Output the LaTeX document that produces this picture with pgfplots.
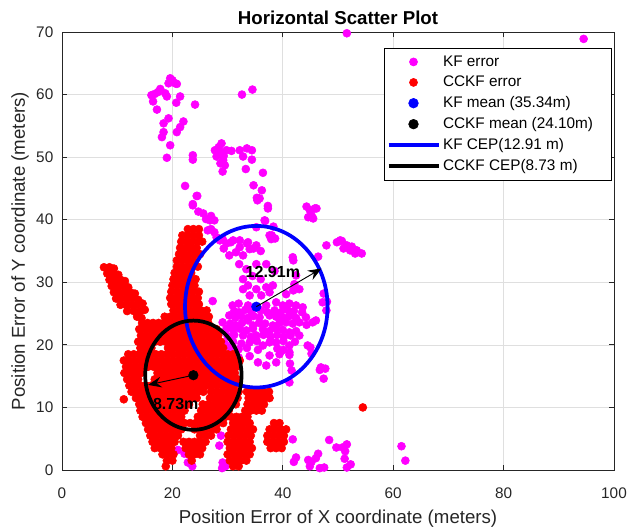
\documentclass[border=0pt]{standalone}
\usepackage{fontspec}
\setmainfont{Liberation Sans}
\usepackage{pgfplots}
\pgfplotsset{compat=1.18}
\usetikzlibrary{arrows.meta}
\definecolor{gridgray}{RGB}{223,223,223}
\definecolor{axgray}{RGB}{38,38,38}
\definecolor{mymag}{RGB}{255,0,255}
\definecolor{myred}{RGB}{255,0,0}
\definecolor{myblue}{RGB}{0,0,255}
\pgfplotsset{
  marklegend/.style={legend image code/.code={\path[draw=none,fill=none] (0pt,-3pt) rectangle (37.5pt,3pt); \draw[mark repeat=2,mark phase=2,##1] plot coordinates {(0pt,0pt) (18.75pt,0pt) (37.5pt,0pt)};}},
  linelegend/.style={legend image code/.code={\draw[##1] (0pt,0pt) -- (37.5pt,0pt);}},
}
\begin{document}
\begin{tikzpicture}
\path[use as bounding box] (-46.5pt,-42pt) rectangle (426pt,352.5pt);
\begin{axis}[
  at={(0pt,0pt)}, anchor=south west,
  scale only axis, width=414pt, height=328.5pt,
  xmin=0, xmax=100, ymin=0, ymax=70,
  xtick={0,20,...,100}, ytick={0,10,...,70},
  clip=false, clip marker paths=true,
  grid=major, major grid style={draw=gridgray, line width=0.5pt},
  axis line style={draw=axgray, line width=0.6pt},
  tick align=inside, major tick length=4pt,
  tick style={draw=axgray, line width=0.6pt},
  every tick label/.append style={font=\fontsize{11.5}{13}\selectfont, text=axgray},
  /pgf/number format/assume math mode=true,
  xticklabel style={yshift=-9.5pt},
  yticklabel style={xshift=-3pt},
  xlabel={Position Error of X coordinate (meters)},
  ylabel={Position Error of Y coordinate (meters)},
  xlabel style={at={(axis description cs:0.5,-0.112)}, anchor=center, font=\fontsize{14}{16}\selectfont, text=axgray},
  ylabel style={at={(axis description cs:-0.076,0.5)}, anchor=center, font=\fontsize{14}{16}\selectfont, text=axgray},
  title={Horizontal Scatter Plot},
  title style={at={(axis description cs:0.5,1.015)}, anchor=center, font=\bfseries\fontsize{14}{16}\selectfont},
  legend style={at={(rel axis cs:0.9964,0.9635)}, anchor=north east, draw=black, line width=0.5pt, fill=white, font=\fontsize{11.5}{13}\selectfont, inner xsep=2pt, inner ysep=3.5pt, row sep=1.9pt},
  legend cell align=left,
]
% KF error
\addplot[only marks, mark=*, mark size=3pt, color=mymag, marklegend] coordinates {
(19.6,62.6)(20.5,61.8)(19.3,61.8)(20.8,61.7)(16.2,59.9)(17.4,60.4)(18.7,60.2)(19.0,59.7)(16.5,58.9)(17.2,57.6)
(21.4,59.7)(20.7,58.7)(24.1,58.4)(19.3,56.2)(18.4,55.4)(22.0,55.7)(21.4,54.8)(20.8,54.0)(18.4,54.0)(18.1,53.2)
(19.6,51.9)(19.0,49.9)(23.7,50.3)(23.7,49.6)(22.3,45.4)(24.5,43.8)(32.6,60.0)(34.5,60.8)(17.8,60.9)(20.0,62.3)(16.8,60.1)
(28.9,52.2)(27.7,51.1)(28.6,50.9)(29.8,51.1)(30.7,51.0)(28.0,50.1)(29.2,49.5)(29.5,48.7)(29.1,47.7)(32.2,51.1)
(33.5,51.4)(34.4,51.1)(32.8,50.1)(34.4,49.6)(33.3,48.1)(36.4,47.5)(34.7,45.5)(36.2,44.7)(35.3,43.5)(28.4,51.6)(29.3,50.2)(28.7,49.0)
(24.4,43.8)(23.7,42.3)(24.7,41.3)(25.6,41.0)(26.8,39.9)(27.0,38.5)(35.4,43.1)(37.3,41.8)(36.8,39.8)(38.3,38.9)
(38.0,37.5)(38.6,37.0)(35.8,43.4)(37.3,42.2)(23.7,42.5)(26.1,40.1)(27.0,40.6)(27.6,39.9)
(26.4,38.3)(27.6,38.0)(28.6,36.7)(29.8,36.2)(31.0,36.7)(32.2,36.7)(33.5,36.2)(34.7,35.4)(29.1,36.9)(30.6,36.4)
(33.7,36.4)(35.2,35.9)(34.0,35.3)(32.8,34.3)(31.5,34.8)(30.3,34.3)(29.3,35.4)(32.2,35.6)(36.0,35.0)(37.6,37.5)
(37.9,36.9)(36.7,39.9)(35.2,38.8)(28.0,37.2)
(44.3,42.1)(44.9,41.5)(45.8,41.8)(45.2,40.7)(46.1,41.8)(44.6,40.4)(45.5,40.2)
(47.9,35.9)(49.8,36.4)(50.7,36.6)(51.6,35.9)(52.5,35.7)(53.4,35.1)(54.3,34.6)(51.0,35.4)(52.2,35.1)(53.1,34.6)(50.4,36.7)
(46.4,34.1)(41.9,33.5)(41.8,34.0)(42.4,31.1)(41.9,28.7)(47.4,28.2)(48.0,26.9)(47.2,26.8)(47.9,25.5)(40.6,28.1)(42.1,29.7)(43.0,28.9)
(32.1,32.9)(33.4,32.1)(35.2,32.9)(37.0,32.9)(32.8,30.5)(33.7,29.5)(35.2,28.9)(37.0,29.2)(38.2,29.5)(32.8,28.9)
(34.0,27.9)(36.1,27.9)(37.6,28.4)(34.5,31.0)(36.0,30.5)(38.5,31.8)
(27.3,27.0)(30.9,26.3)(32.0,26.6)(33.7,26.3)(37.0,26.3)(38.8,26.8)(40.0,26.3)(41.2,26.6)(42.4,26.3)(43.6,26.0)
(31.2,25.4)(32.1,25.2)(33.2,25.6)(34.3,25.3)(36.0,25.5)(37.2,25.2)(38.5,25.5)(39.6,25.2)(40.8,25.6)(42.0,25.4)(43.5,25.2)
(30.3,24.7)(31.4,24.3)(32.5,24.6)(33.6,24.3)(34.7,24.6)(35.8,24.4)(37.6,24.7)(38.8,24.5)(40.0,24.4)(41.2,24.6)(42.4,24.3)(44.2,24.4)(46.0,23.9)
(29.1,23.6)(30.5,23.4)(31.5,23.1)(32.6,23.5)(33.7,23.9)(34.6,23.1)(35.7,23.5)(36.8,23.4)(38.2,23.1)(39.4,23.5)(40.6,23.6)(41.8,23.4)(43.0,23.6)(44.3,23.2)(45.4,23.6)
(28.5,22.0)(29.8,22.6)(31.0,22.4)(32.2,22.6)(33.4,22.3)(34.6,22.6)(36.4,22.5)(37.6,22.2)(38.8,22.6)(40.0,22.4)(41.2,22.0)(42.4,22.2)
(30.0,21.4)(31.2,21.6)(32.8,21.5)(34.2,21.3)(35.2,21.5)(36.5,21.6)(37.8,21.3)(39.0,21.6)(40.2,21.3)(41.4,21.5)(43.0,21.5)
(29.5,20.2)(31.0,20.5)(32.5,20.2)(34.0,20.4)(35.3,20.6)(36.4,19.9)(37.6,20.4)(38.8,20.4)(40.1,20.6)(41.2,19.9)(42.2,20.5)(44.5,19.9)
(30.5,19.6)(32.0,19.3)(33.5,19.5)(35.5,19.2)(37.6,18.3)(39.0,19.4)(40.1,19.2)(41.2,18.8)(45.0,19.6)
(32.0,18.0)(34.0,18.2)(39.4,18.5)(41.2,18.4)(45.2,18.6)(38.8,17.2)(35.5,17.2)(37.0,16.7)(41.3,17.0)(41.6,15.9)
(41.2,14.0)(46.7,16.0)(47.7,16.2)(47.4,14.6)(46.9,16.4)
(31.5,7.6)(32.1,6.5)(28.8,5.5)(28.5,3.9)(29.1,1.2)(29.0,0.3)(29.6,0.6)(21.0,3.2)(22.2,2.6)(22.8,1.2)(23.6,0.6)
(41.8,4.9)(42.0,1.3)(42.4,2.0)(44.6,1.6)(46.0,1.9)(44.9,0.6)(46.7,0.3)(47.5,0.4)(46.4,2.6)(45.2,1.3)(48.4,4.8)
(50.8,3.6)(51.3,3.0)(51.2,1.8)(51.6,0.4)(52.3,0.9)(51.6,4.1)(61.5,3.8)(62.2,1.5)(49.7,3.6)
(51.6,69.8)(94.5,68.9)
};
\addlegendentry{KF error}
% CCKF error
\addplot[only marks, mark=*, mark size=3pt, color=myred, marklegend] coordinates {
(7.6,32.4)(8.6,32.4)(9.4,32.2)(8.2,31.4)(9.2,31.4)(10.2,31.2)(8.6,30.4)(9.6,30.4)(10.6,30.4)(11.4,30.2)
(9.0,29.4)(10.0,29.4)(11.0,29.4)(12.0,29.2)(9.4,28.4)(10.4,28.4)(11.4,28.4)(12.4,28.4)(13.2,28.2)
(9.8,27.4)(10.8,27.4)(11.8,27.4)(12.8,27.4)(13.8,27.2)(10.6,26.4)(11.6,26.4)(12.6,26.4)(13.6,26.4)(14.6,26.6)
(11.8,25.4)(13.0,25.4)(14.2,25.4)(15.0,25.6)(13.6,24.5)(14.4,24.3)
(22.8,38.5)(23.8,38.5)(24.8,38.5)
(21.8,37.5)(22.8,37.5)(23.8,37.5)(24.8,37.5)
(21.6,36.5)(22.6,36.5)(23.6,36.5)(24.6,36.5)(25.4,36.5)
(21.4,35.5)(22.4,35.5)(23.4,35.5)(24.4,35.5)
(21.2,34.5)(22.2,34.5)(23.2,34.5)(24.2,34.5)(25.0,34.5)
(20.8,33.5)(21.8,33.5)(22.8,33.5)(23.8,33.5)
(20.8,32.5)(21.8,32.5)(22.8,32.5)(23.8,32.5)(24.6,32.5)
(20.4,31.5)(21.4,31.5)(22.4,31.5)(23.4,31.5)
(20.2,30.5)(21.2,30.5)(22.2,30.5)(23.2,30.5)(24.2,30.5)
(20.0,29.5)(21.0,29.5)(22.0,29.5)(23.0,29.5)(24.0,29.5)
(19.8,28.5)(20.8,28.5)(21.8,28.5)(22.8,28.5)(23.8,28.5)(24.8,28.5)
(19.6,27.5)(20.6,27.5)(21.6,27.5)(22.6,27.5)(23.6,27.5)(24.6,27.5)
(19.8,26.5)(20.8,26.5)(21.8,26.5)(22.8,26.5)(23.8,26.5)(24.8,26.5)
(20.2,25.5)(21.2,25.5)(22.2,25.5)(23.2,25.5)(24.2,25.5)(25.2,25.5)(26.2,25.5)
(18.6,24.5)(19.6,24.5)(20.6,24.5)(21.6,24.5)(22.6,24.5)(23.6,24.5)(24.6,24.5)(25.6,24.5)(26.6,24.5)
(14.5,23.5)(15.5,23.5)(16.5,23.5)(17.5,23.5)(18.5,23.5)(19.5,23.5)(20.5,23.5)(21.5,23.5)(22.5,23.5)(23.5,23.5)(24.5,23.5)(25.5,23.5)(26.5,23.5)
(14.0,22.5)(15.0,22.5)(16.0,22.5)(17.0,22.5)(18.0,22.5)(19.0,22.5)(20.0,22.5)(21.0,22.5)(22.0,22.5)(23.0,22.5)(24.0,22.5)(25.0,22.5)(26.0,22.5)(27.0,22.5)(28.0,22.5)
(14.3,21.5)(15.3,21.5)(16.3,21.5)(17.3,21.5)(18.3,21.5)(19.3,21.5)(20.3,21.5)(21.3,21.5)(22.3,21.5)(23.3,21.5)(24.3,21.5)(25.3,21.5)(26.3,21.5)(27.3,21.5)(28.3,21.5)
(13.8,20.5)(14.8,20.5)(15.8,20.5)(16.8,20.5)(17.8,20.5)(18.8,20.5)(19.8,20.5)(20.8,20.5)(21.8,20.5)(22.8,20.5)(23.8,20.5)(24.8,20.5)(25.8,20.5)(26.8,20.5)(27.8,20.5)(28.8,20.5)
(14.2,19.5)(15.2,19.5)(16.2,19.5)(19.2,19.5)(20.2,19.5)(21.2,19.5)(22.2,19.5)(23.2,19.5)(24.2,19.5)(25.2,19.5)(26.2,19.5)(27.2,19.5)(28.2,19.5)(29.2,19.5)
(12.0,18.5)(13.0,18.5)(14.0,18.5)(15.0,18.5)(16.0,18.5)(17.0,18.5)(18.0,18.5)(19.0,18.5)(20.0,18.5)(21.0,18.5)(22.0,18.5)(23.0,18.5)(24.0,18.5)(25.0,18.5)(26.0,18.5)(27.0,18.5)(28.0,18.5)(29.0,18.5)(30.0,18.5)(31.0,18.5)
(11.2,17.5)(12.2,17.5)(13.2,17.5)(14.2,17.5)(15.2,17.5)(16.2,17.5)(17.2,17.5)(18.2,17.5)(19.2,17.5)(20.2,17.5)(21.2,17.5)(22.2,17.5)(23.2,17.5)(24.2,17.5)(25.2,17.5)(26.2,17.5)(27.2,17.5)(28.2,17.5)(29.2,17.5)(30.2,17.5)(31.2,17.5)(32.2,17.5)
(11.6,16.5)(12.6,16.5)(13.6,16.5)(14.6,16.5)(15.6,16.5)(16.6,16.5)(17.6,16.5)(18.6,16.5)(19.6,16.5)(20.6,16.5)(21.6,16.5)(22.6,16.5)(23.6,16.5)(24.6,16.5)(25.6,16.5)(26.6,16.5)(27.6,16.5)(28.6,16.5)(29.6,16.5)(30.6,16.5)(31.6,16.5)
(11.3,15.5)(12.3,15.5)(13.3,15.5)(14.3,15.5)(17.3,15.5)(18.3,15.5)(19.3,15.5)(20.3,15.5)(21.3,15.5)(22.3,15.5)(23.3,15.5)(24.3,15.5)(25.3,15.5)(26.3,15.5)(27.3,15.5)(28.3,15.5)(29.3,15.5)(30.3,15.5)(31.3,15.5)
(11.8,14.5)(12.8,14.5)(13.8,14.5)(16.8,14.5)(17.8,14.5)(18.8,14.5)(19.8,14.5)(20.8,14.5)(21.8,14.5)(22.8,14.5)(23.8,14.5)(24.8,14.5)(25.8,14.5)(26.8,14.5)(27.8,14.5)(28.8,14.5)(29.8,14.5)(30.8,14.5)(31.8,14.5)
(12.2,13.5)(13.2,13.5)(14.2,13.5)(15.2,13.5)(16.2,13.5)(17.2,13.5)(18.2,13.5)(19.2,13.5)(20.2,13.5)(21.2,13.5)(22.2,13.5)(23.2,13.5)(24.2,13.5)(25.2,13.5)(26.2,13.5)(27.2,13.5)(28.2,13.5)(29.2,13.5)(30.2,13.5)(31.2,13.5)
(12.6,12.5)(13.6,12.5)(14.6,12.5)(15.6,12.5)(16.6,12.5)(17.6,12.5)(18.6,12.5)(19.6,12.5)(20.6,12.5)(21.6,12.5)(22.6,12.5)(23.6,12.5)(24.6,12.5)(25.6,12.5)(27.0,12.5)(28.0,12.5)(29.0,12.5)(30.0,12.5)(31.0,12.5)(32.0,12.5)(33.5,12.5)(34.5,12.5)(35.5,12.5)(36.5,12.5)(37.5,12.5)
(11.2,11.3)(13.4,11.5)(14.4,11.5)(15.4,11.5)(16.4,11.5)(17.4,11.5)(18.4,11.5)(19.4,11.5)(20.4,11.5)(21.4,11.5)(22.4,11.5)(23.4,11.5)(24.4,11.5)(26.8,11.5)(27.8,11.5)(28.8,11.5)(29.8,11.5)(30.8,11.5)(31.8,11.5)(33.8,11.5)(34.8,11.5)(35.8,11.5)(36.8,11.5)(37.6,11.5)
(14.0,10.5)(15.0,10.5)(16.0,10.5)(17.0,10.5)(18.0,10.5)(19.0,10.5)(20.0,10.5)(21.0,10.5)(22.0,10.5)(23.0,10.5)(25.5,10.5)(26.5,10.5)(27.5,10.5)(28.5,10.5)(29.5,10.5)(30.5,10.5)(31.5,10.5)(33.6,10.5)(34.6,10.5)(35.6,10.5)(36.6,10.5)
(14.2,9.5)(15.2,9.5)(16.2,9.5)(17.2,9.5)(18.2,9.5)(19.2,9.5)(20.2,9.5)(21.2,9.5)(22.2,9.5)(25.2,9.5)(26.2,9.5)(27.2,9.5)(28.2,9.5)(29.2,9.5)(30.2,9.5)(33.2,9.5)(34.2,9.5)(35.2,9.5)(36.2,9.5)
(14.6,8.5)(15.6,8.5)(16.6,8.5)(17.6,8.5)(18.6,8.5)(19.6,8.5)(20.6,8.5)(21.6,8.5)(24.6,8.5)(25.6,8.5)(26.6,8.5)(27.6,8.5)(28.6,8.5)(29.6,8.5)(30.6,8.5)(31.6,8.5)(32.6,8.5)(33.6,8.5)
(15.2,7.5)(16.2,7.5)(17.2,7.5)(18.2,7.5)(19.2,7.5)(20.2,7.5)(21.2,7.5)(22.2,7.5)(23.2,7.5)(24.2,7.5)(25.2,7.5)(26.2,7.5)(27.2,7.5)(28.2,7.5)(29.2,7.5)(31.0,7.5)(32.0,7.5)(33.0,7.5)(34.0,7.5)(38.4,7.5)(39.4,7.5)
(15.6,6.5)(16.6,6.5)(17.6,6.5)(18.6,6.5)(19.6,6.5)(20.6,6.5)(21.6,6.5)(24.0,6.5)(25.0,6.5)(26.0,6.5)(27.0,6.5)(28.0,6.5)(30.6,6.5)(31.6,6.5)(32.6,6.5)(33.6,6.5)(34.6,6.5)(37.6,6.5)(38.6,6.5)(39.6,6.5)(40.6,6.5)
(16.0,5.5)(17.0,5.5)(18.0,5.5)(19.0,5.5)(20.0,5.5)(21.0,5.5)(25.0,5.5)(26.0,5.5)(27.0,5.5)(30.2,5.5)(31.2,5.5)(32.2,5.5)(33.2,5.5)(34.2,5.5)(37.2,5.5)(38.2,5.5)(39.2,5.5)(40.2,5.5)
(16.4,4.5)(17.4,4.5)(18.4,4.5)(19.4,4.5)(20.4,4.5)(22.0,4.5)(23.0,4.5)(24.0,4.5)(25.0,4.5)(26.0,4.5)(30.0,4.5)(31.0,4.5)(32.0,4.5)(33.0,4.5)(34.0,4.5)(37.2,4.5)(38.2,4.5)(39.2,4.5)(40.2,4.5)
(16.8,3.5)(17.8,3.5)(18.8,3.5)(19.8,3.5)(22.4,3.5)(23.4,3.5)(24.4,3.5)(25.4,3.5)(30.4,3.5)(31.4,3.5)(32.4,3.5)(33.4,3.5)(34.4,3.5)(37.8,3.5)(38.8,3.5)(39.8,3.5)
(18.2,2.5)(19.2,2.5)(20.2,2.5)(23.0,2.5)(24.0,2.5)(25.0,2.5)(30.0,2.5)(31.0,2.5)(32.0,2.5)(33.0,2.5)(34.0,2.5)
(19.0,1.5)(20.0,1.5)(23.5,1.5)(30.4,1.5)(31.4,1.5)(32.4,1.5)(33.4,1.5)
(18.8,0.6)(31.0,0.6)(32.0,0.6)
(54.5,10.0)
};
\addlegendentry{CCKF error}
\addplot[only marks, mark=*, mark size=3.6pt, color=myblue, marklegend] coordinates {(35.2,26.1)};
\addlegendentry{KF mean (35.34m)}
\addplot[only marks, mark=*, mark size=3.6pt, color=black, marklegend] coordinates {(23.8,15.15)};
\addlegendentry{CCKF mean (24.10m)\hspace*{10pt}}
\addlegendimage{myblue, line width=2.8pt, linelegend}
\addlegendentry{KF CEP(12.91 m)}
\addlegendimage{black, line width=2.8pt, linelegend}
\addlegendentry{CCKF CEP(8.73 m)}
\draw[myblue, line width=2.8pt] (axis cs:35.2,26.1) ellipse [x radius=12.91, y radius=12.91];
\draw[black, line width=2.8pt] (axis cs:23.8,15.15) ellipse [x radius=8.73, y radius=8.73];
\draw[line width=0.7pt, -{Stealth[length=10pt,width=8pt,inset=3.5pt]}] (axis cs:35.2,26.1) -- (axis cs:47.0,32.2);
\draw[line width=0.7pt, -{Stealth[length=10pt,width=8pt,inset=3.5pt]}] (axis cs:23.8,15.15) -- (axis cs:15.6,13.6);
\node[font=\bfseries\fontsize{12}{14}\selectfont] at (axis cs:38.2,31.6) {12.91m};
\node[font=\bfseries\fontsize{12}{14}\selectfont] at (axis cs:20.6,10.6) {8.73m};
\end{axis}
\end{tikzpicture}
\end{document}
